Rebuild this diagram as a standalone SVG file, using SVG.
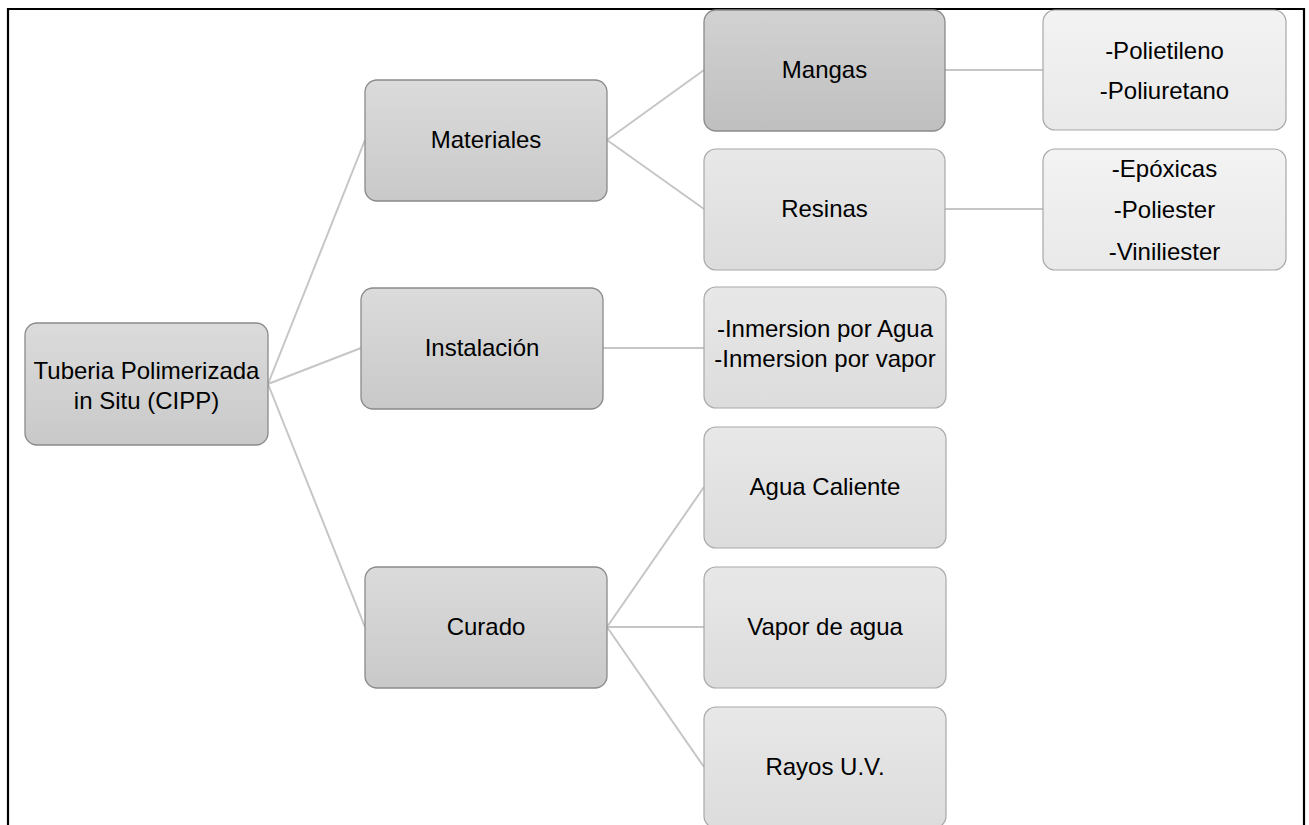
<svg xmlns="http://www.w3.org/2000/svg" width="1309" height="825" viewBox="0 0 1309 825">
<defs>
<linearGradient id="gMid" x1="0" y1="0" x2="0" y2="1"><stop offset="0" stop-color="#dbdbdb"/><stop offset="1" stop-color="#c9c9c9"/></linearGradient>
<linearGradient id="gDark" x1="0" y1="0" x2="0" y2="1"><stop offset="0" stop-color="#d2d2d2"/><stop offset="1" stop-color="#bfbfbf"/></linearGradient>
<linearGradient id="gLight" x1="0" y1="0" x2="0" y2="1"><stop offset="0" stop-color="#e8e8e8"/><stop offset="1" stop-color="#dcdcdc"/></linearGradient>
<linearGradient id="gLeaf" x1="0" y1="0" x2="0" y2="1"><stop offset="0" stop-color="#f3f3f3"/><stop offset="1" stop-color="#e9e9e9"/></linearGradient>
<style>
.box{stroke:#8a8a8a;stroke-width:1.3}
.leafbox{stroke:#a8a8a8;stroke-width:1.2}
.mid{fill:url(#gMid)}
.dark{fill:url(#gDark)}
.light{fill:url(#gLight)}
.leaf{fill:url(#gLeaf)}
text{font-family:"Liberation Sans",Arial,sans-serif;font-size:24px;fill:#000;text-anchor:middle}
.conn line{stroke:#c6c6c6;stroke-width:2}
</style>
</defs>
<rect x="0" y="0" width="1309" height="825" fill="#fff"/>
<path d="M8,830 V9 H1304 V830" fill="none" stroke="#000" stroke-width="2.2"/>
<g class="conn" id="connectors">
<line x1="268" y1="384" x2="365" y2="140"/>
<line x1="268" y1="384" x2="361" y2="348"/>
<line x1="268" y1="384" x2="365" y2="627"/>
<line x1="607" y1="140" x2="704" y2="70"/>
<line x1="607" y1="140" x2="704" y2="209"/>
<line x1="945" y1="70" x2="1043" y2="70"/>
<line x1="945" y1="209" x2="1043" y2="209"/>
<line x1="603" y1="348" x2="704" y2="348"/>
<line x1="607" y1="627" x2="704" y2="487"/>
<line x1="607" y1="627" x2="704" y2="627"/>
<line x1="607" y1="627" x2="704" y2="767"/>
</g>
<g id="root"><rect class="box mid" x="25" y="323" width="243" height="122" rx="12"/><text x="146.5" y="379">Tuberia Polimerizada</text><text x="146.5" y="409">in Situ (CIPP)</text></g>
<g id="materiales"><rect class="box mid" x="365" y="80" width="242" height="121" rx="12"/><text x="486" y="148">Materiales</text></g>
<g id="instalacion"><rect class="box mid" x="361" y="288" width="242" height="121" rx="12"/><text x="482" y="356">Instalación</text></g>
<g id="curado"><rect class="box mid" x="365" y="567" width="242" height="121" rx="12"/><text x="486" y="635">Curado</text></g>
<g id="mangas"><rect class="box dark" x="704" y="10" width="241" height="121" rx="12"/><text x="824.5" y="78">Mangas</text></g>
<g id="resinas"><rect class="leafbox light" x="704" y="149" width="241" height="121" rx="12"/><text x="824.5" y="217">Resinas</text></g>
<g id="inmersion"><rect class="leafbox light" x="704" y="287" width="242" height="121" rx="12"/><text x="825" y="337">-Inmersion por Agua</text><text x="825" y="367">-Inmersion por vapor</text></g>
<g id="agua-caliente"><rect class="leafbox light" x="704" y="427" width="242" height="121" rx="12"/><text x="825" y="495">Agua Caliente</text></g>
<g id="vapor-agua"><rect class="leafbox light" x="704" y="567" width="242" height="121" rx="12"/><text x="825" y="635">Vapor de agua</text></g>
<g id="rayos-uv"><rect class="leafbox light" x="704" y="707" width="242" height="121" rx="12"/><text x="825" y="775">Rayos U.V.</text></g>
<g id="mangas-tipos"><rect class="leafbox leaf" x="1043" y="10" width="243" height="120" rx="12"/><text x="1164.5" y="59">-Polietileno</text><text x="1164.5" y="99">-Poliuretano</text></g>
<g id="resinas-tipos"><rect class="leafbox leaf" x="1043" y="149" width="243" height="121" rx="12"/><text x="1164.5" y="177">-Epóxicas</text><text x="1164.5" y="218">-Poliester</text><text x="1164.5" y="260">-Viniliester</text></g>
</svg>
